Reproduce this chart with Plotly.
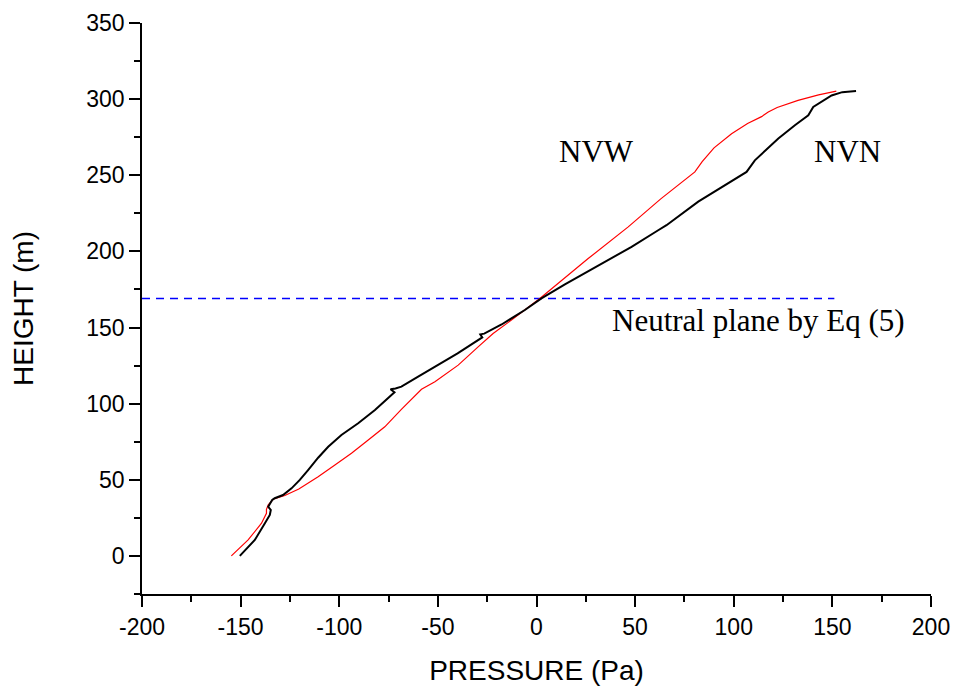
import plotly.graph_objects as go

# NVN profile: pressure difference (Pa) vs height (m)
nvn_pressure = [-150.4, -142.8, -137.7, -135.2, -134.7, -136.0, -135.2, -134.0, -132.7,
                -128.5, -124.2, -120.0, -115.8, -110.7, -105.6, -98.9, -90.4, -81.9,
                -72.0, -74.0, -71.5, -68.5, -60.0, -49.8, -40.0, -27.5, -28.5, -26.5,
                -17.7, -5.9, 2.5, 14.4, 36.4, 48.2, 61.7, 65.9, 82.0, 106.5, 110.7,
                122.6, 131.0, 137.8, 140.3, 149.6, 155.0, 162.0]
nvn_height = [0.0, 10.5, 21.5, 26.9, 30.2, 32.3, 34.1, 36.7, 37.9,
              40.0, 44.4, 49.9, 56.4, 64.5, 71.7, 79.4, 87.1, 95.8,
              107.5, 109.5, 110.0, 111.2, 117.7, 125.5, 133.0, 143.5, 145.5, 146.0,
              152.0, 161.5, 169.1, 178.3, 194.2, 203.0, 213.9, 217.2, 232.7, 252.2, 259.8,
              274.1, 282.8, 289.4, 294.9, 302.4, 304.6, 305.3]

# NVW profile
nvw_pressure = [-154.7, -146.2, -139.4, -136.9, -136.9, -136.0, -133.5, -127.6, -120.5,
                -110.7, -102.2, -93.8, -85.3, -76.9, -68.5, -58.3, -51.5, -39.7, -29.6,
                -22.0, -12.7, -4.2, 1.7, 26.2, 46.5, 63.0, 80.3, 84.0, 90.0, 98.9,
                107.0, 114.1, 117.5, 122.0, 132.6, 143.0, 152.0]
nvw_height = [0.0, 10.5, 21.5, 28.0, 30.6, 33.5, 37.2, 39.7, 44.0,
              52.0, 59.7, 67.4, 76.1, 84.8, 96.3, 109.4, 114.4, 125.3, 137.3,
              146.1, 154.9, 163.6, 169.1, 195.3, 216.1, 234.5, 252.2, 259.0, 268.0, 277.3,
              284.0, 288.5, 291.5, 294.5, 299.2, 302.8, 305.3]

# Neutral plane height from Eq (5)
neutral_pressure = [-200, 151]
neutral_height = [169, 169]

x_ticks = [-200, -150, -100, -50, 0, 50, 100, 150, 200]
x_tick_labels = ["-200", "-150", "-100", "-50", "0", "50", "100", "150", "200"]
y_ticks = [0, 50, 100, 150, 200, 250, 300, 350]
y_tick_labels = ["0", "50", "100", "150", "200", "250", "300", "350"]

fig = go.Figure()
fig.add_trace(go.Scatter(x=neutral_pressure, y=neutral_height, mode="lines",
                         line=dict(color="#0000ff", width=1.5, dash="8px,6px"),
                         showlegend=False, hoverinfo="skip"))
fig.add_trace(go.Scatter(x=nvw_pressure, y=nvw_height, mode="lines", name="NVW",
                         line=dict(color="#ff0000", width=1.2), showlegend=False))
fig.add_trace(go.Scatter(x=nvn_pressure, y=nvn_height, mode="lines", name="NVN",
                         line=dict(color="#000000", width=2), showlegend=False))

serif = dict(family="Liberation Serif, Times New Roman, serif", size=31, color="black")
fig.add_annotation(x=30.5, y=265.6, text="NVW", showarrow=False, font=serif)
fig.add_annotation(x=157.5, y=265.6, text="NVN", showarrow=False, font=serif)
fig.add_annotation(x=112.5, y=154.5, text="Neutral plane by Eq (5)", showarrow=False,
                   font=dict(family="Liberation Serif, Times New Roman, serif", size=31, color="black"))

axis_common = dict(
    showline=True, linecolor="black", linewidth=1.8, mirror=False,
    showgrid=False, zeroline=False, automargin=False,
    ticks="outside", ticklen=11, tickwidth=1.6, tickcolor="black",
    tickfont=dict(family="Liberation Sans, Arial, sans-serif", size=23, color="black"),
)

fig.update_xaxes(range=[-200, 200], tickvals=x_ticks, ticktext=x_tick_labels,
                 minor=dict(ticks="outside", ticklen=6, tickwidth=1.6, tickcolor="black", dtick=25),
                 title=dict(text="PRESSURE (Pa)", standoff=22,
                            font=dict(family="Liberation Sans, Arial, sans-serif", size=28, color="black")),
                 **axis_common)
fig.update_yaxes(range=[-25, 350], tickvals=y_ticks, ticktext=y_tick_labels,
                 minor=dict(ticks="outside", ticklen=6, tickwidth=1.6, tickcolor="black", dtick=25),
                 title=dict(text="HEIGHT (m)", standoff=44,
                            font=dict(family="Liberation Sans, Arial, sans-serif", size=28, color="black")),
                 **axis_common)

fig.update_layout(
    width=959, height=688,
    margin=dict(l=142, r=28, t=23, b=94),
    plot_bgcolor="white", paper_bgcolor="white",
)

fig.write_html("out.html")
